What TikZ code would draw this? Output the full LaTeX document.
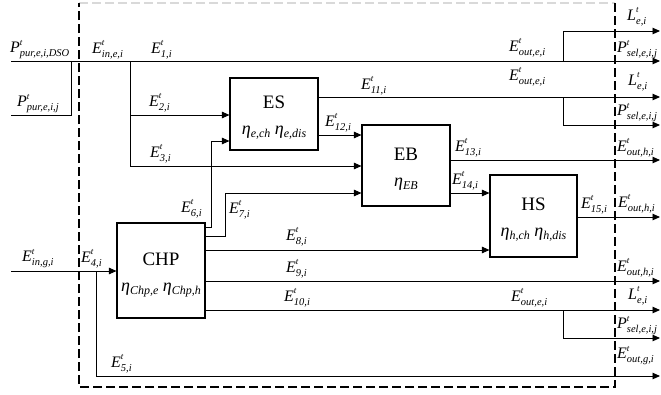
\documentclass[tikz,border=0pt]{standalone}
\usepackage{fontspec}
\setmainfont{Liberation Serif}
\usetikzlibrary{arrows.meta}
\newcommand{\sv}[2]{\textit{#1}\rlap{\raisebox{7.5pt}{\fontsize{9}{9}\selectfont\textit{t}}}\raisebox{-4pt}{\fontsize{10.5}{10.5}\selectfont\textit{#2}}}
\newcommand{\et}[1]{\textit{η}\raisebox{-3pt}{\fontsize{12}{12}\selectfont\textit{#1}}}
\newcommand{\bx}[2]{\raisebox{-3pt}[\height][\depth]{\begin{tabular}{@{}c@{}}#1\\[2pt]{\fontsize{18}{18}\selectfont #2}\end{tabular}}}
\tikzset{
  box/.style={draw, line width=1.1pt, fill=white, inner sep=0pt,
    font=\fontsize{19}{24}\selectfont},
  flow/.style={line width=0.9pt},
  arr/.style={flow, -{Triangle[length=7.5pt,width=6.5pt]}},
  lbl/.style={anchor=south west, inner sep=0pt, font=\fontsize{16}{16}\selectfont},
  border/.style={dashed, dash pattern=on 9pt off 4pt, line width=1.1pt}
}
\begin{document}
\begin{tikzpicture}[x=1pt,y=-1pt]
\useasboundingbox (0,0) rectangle (661,394);
% dashed system boundary
\coordinate (dTL) at (79,3);
\coordinate (dTR) at (615,3);
\coordinate (dBR) at (615,387);
\coordinate (dBL) at (79,387);
\draw[border, gray!30] (dTL) -- (dTR);
\draw[border] (dTR) -- (dBR) -- (dBL) -- (dTL);

% boxes
\node[box, minimum width=88pt, minimum height=72pt] (ES) at (274,114)
  {\bx{ES}{\et{e,ch} \et{e,dis}}};
\node[box, minimum width=88pt, minimum height=81pt] (EB) at (406,165.5)
  {\bx{EB}{\et{EB}}};
\node[box, minimum width=87pt, minimum height=82pt] (HS) at (533.5,216)
  {\bx{HS}{\et{h,ch} \et{h,dis}}};
\node[box, minimum width=88pt, minimum height=95pt] (CHP) at (161,270.5)
  {\bx{CHP}{\et{Chp,e} \et{Chp,h}}};

% coordinates
\coordinate (pA) at (11,61);
\coordinate (o1) at (660,61);
\coordinate (s1) at (563,61);
\coordinate (o0) at (660,31);
\coordinate (pB) at (11,115);
\coordinate (jB) at (71,61);
\coordinate (j1) at (130,61);
\coordinate (j2) at (130,115);
\coordinate (j3) at (130,166);
\coordinate (c6) at (211,227);
\coordinate (c6t) at (211,141);
\coordinate (c7) at (225,236);
\coordinate (c7t) at (225,193);
\coordinate (c8) at (300,250);
\coordinate (o9) at (660,281);
\coordinate (o10) at (660,310);
\coordinate (s10) at (563,310);
\coordinate (o10b) at (660,338);
\coordinate (o11) at (660,97);
\coordinate (s11) at (563,97);
\coordinate (o11b) at (660,125);
\coordinate (c12) at (340,135);
\coordinate (o13) at (660,160);
\coordinate (c14) at (470,193);
\coordinate (o15) at (660,217);
\coordinate (pG) at (11,271);
\coordinate (j4) at (96,271);
\coordinate (o5) at (660,376);

% electricity in
\draw[arr] (pA) -- (o1);
\draw[arr] (s1) |- (o0);
\draw[flow] (pB) -| (jB);
\draw[flow] (j1) -- (j3);
\draw[arr] (j2) -- (j2 -| ES.west);
\draw[arr] (j3) -- (j3 -| EB.west);
% ES outputs
\draw[arr] (o11 -| ES.east) -- (o11);
\draw[arr] (s11) |- (o11b);
\draw[arr] (c12 -| ES.east) -- (c12 -| EB.west);
% EB outputs
\draw[arr] (o13 -| EB.east) -- (o13);
\draw[arr] (c14 -| EB.east) -- (c14 -| HS.west);
% HS output
\draw[arr] (o15 -| HS.east) -- (o15);
% gas
\draw[arr] (pG) -- (pG -| CHP.west);
\draw[arr] (j4) |- (o5);
% CHP outputs
\draw[arr] (c6 -| CHP.east) -- (c6) -- (c6t) -- (c6t -| ES.west);
\draw[arr] (c7 -| CHP.east) -- (c7) -- (c7t) -- (c7t -| EB.west);
\draw[arr] (c8 -| CHP.east) -- (c8 -| HS.west);
\draw[arr] (o9 -| CHP.east) -- (o9);
\draw[arr] (o10 -| CHP.east) -- (o10);
\draw[arr] (s10) |- (o10b);

% labels
\node[lbl] (lpd) at (10,59) {\sv{P}{pur,e,i,DSO}};
\node[lbl] (lpj) at (17,113) {\sv{P}{pur,e,i,j}};
\node[lbl] (lin) at (92,59) {\sv{E}{in,e,i}};
\node[lbl] (l1) at (151,59) {\sv{E}{1,i}};
\node[lbl] (l2) at (149,112) {\sv{E}{2,i}};
\node[lbl] (l3) at (150,163) {\sv{E}{3,i}};
\node[lbl] (lo1) at (509,57) {\sv{E}{out,e,i}};
\node[lbl] (l11) at (361,95) {\sv{E}{11,i}};
\node[lbl] (lo2) at (509,86) {\sv{E}{out,e,i}};
\node[lbl] (l12) at (325,132) {\sv{E}{12,i}};
\node[lbl] (r1) at (627,26) {\sv{L}{e,i}};
\node[lbl] (r2) at (617,59) {\sv{P}{sel,e,i,j}};
\node[lbl] (r3) at (628,91) {\sv{L}{e,i}};
\node[lbl] (r4) at (617,122) {\sv{P}{sel,e,i,j}};
\node[lbl] (r5) at (617,157) {\sv{E}{out,h,i}};
\node[lbl] (l13) at (455,157) {\sv{E}{13,i}};
\node[lbl] (l14) at (452,190) {\sv{E}{14,i}};
\node[lbl] (l15) at (581,214) {\sv{E}{15,i}};
\node[lbl] (r6) at (618,213) {\sv{E}{out,h,i}};
\node[lbl] (l6) at (181,218) {\sv{E}{6,i}};
\node[lbl] (l7) at (229,219) {\sv{E}{7,i}};
\node[lbl] (l8) at (286,246) {\sv{E}{8,i}};
\node[lbl] (l9) at (286,278) {\sv{E}{9,i}};
\node[lbl] (l10) at (284,307) {\sv{E}{10,i}};
\node[lbl] (lo3) at (511,307) {\sv{E}{out,e,i}};
\node[lbl] (r7) at (617,277) {\sv{E}{out,h,i}};
\node[lbl] (r8) at (628,305) {\sv{L}{e,i}};
\node[lbl] (r9) at (617,335) {\sv{P}{sel,e,i,j}};
\node[lbl] (r10) at (617,365) {\sv{E}{out,g,i}};
\node[lbl] (lig) at (22,268) {\sv{E}{in,g,i}};
\node[lbl] (l4) at (81,268) {\sv{E}{4,i}};
\node[lbl] (l5) at (111,373) {\sv{E}{5,i}};
\end{tikzpicture}
\end{document}
